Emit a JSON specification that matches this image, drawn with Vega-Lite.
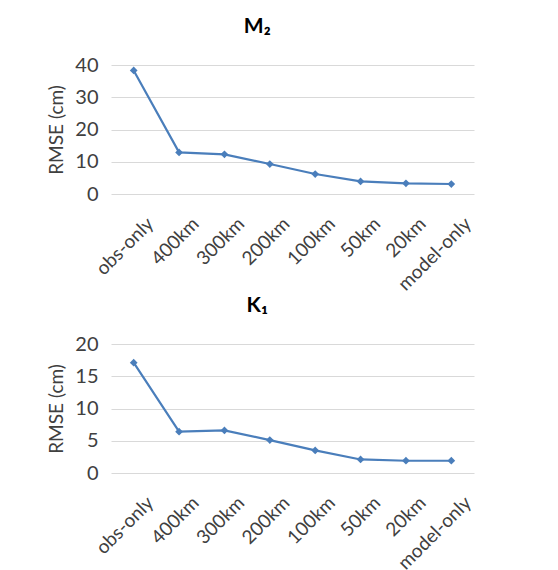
{
  "$schema": "https://vega.github.io/schema/vega-lite/v6.json",
  "background": "white",
  "padding": {"left": 47, "top": 16, "right": 10, "bottom": 5},
  "datasets": {
    "m2": [
      {"case": "obs-only", "rmse": 38.3},
      {"case": "400km", "rmse": 12.9},
      {"case": "300km", "rmse": 12.3},
      {"case": "200km", "rmse": 9.3},
      {"case": "100km", "rmse": 6.2},
      {"case": "50km", "rmse": 3.9},
      {"case": "20km", "rmse": 3.3},
      {"case": "model-only", "rmse": 3.1}
    ],
    "k1": [
      {"case": "obs-only", "rmse": 17.1},
      {"case": "400km", "rmse": 6.4},
      {"case": "300km", "rmse": 6.6},
      {"case": "200km", "rmse": 5.1},
      {"case": "100km", "rmse": 3.5},
      {"case": "50km", "rmse": 2.1},
      {"case": "20km", "rmse": 1.9},
      {"case": "model-only", "rmse": 1.9}
    ]
  },
  "config": {
    "font": "Lato",
    "view": {"stroke": null},
    "axis": {
      "labelFont": "Lato",
      "titleFont": "Lato",
      "labelColor": "#404040",
      "titleColor": "#404040",
      "gridColor": "#d9d9d9",
      "domain": false,
      "ticks": false
    },
    "title": {"font": "Lato", "fontSize": 21, "fontWeight": "bold", "color": "#000000", "frame": "bounds", "anchor": "middle", "offset": 18, "dx": -4},
    "concat": {"spacing": 0}
  },
  "vconcat": [
    {
      "title": "M₂",
      "width": 363,
      "height": 129,
      "data": {"name": "m2"},
      "mark": {"type": "line", "color": "#4A7EBB", "strokeWidth": 2.2, "point": {"shape": "diamond", "size": 60, "filled": true, "color": "#4A7EBB"}},
      "encoding": {
        "x": {"field": "case", "type": "nominal", "sort": null, "scale": {"paddingOuter": 0.5}, "axis": {"title": null, "labelAngle": -45, "labelFontSize": 19, "labelPadding": 20, "labelOffset": 10}},
        "y": {"field": "rmse", "type": "quantitative", "scale": {"domain": [0, 40]}, "axis": {"values": [0, 10, 20, 30, 40], "title": "RMSE (cm)", "titleFontSize": 19, "titleFontWeight": "normal", "labelFontSize": 20, "labelPadding": 13, "titlePadding": 8}}
      }
    },
    {
      "title": "K₁",
      "width": 363,
      "height": 129,
      "data": {"name": "k1"},
      "mark": {"type": "line", "color": "#4A7EBB", "strokeWidth": 2.2, "point": {"shape": "diamond", "size": 60, "filled": true, "color": "#4A7EBB"}},
      "encoding": {
        "x": {"field": "case", "type": "nominal", "sort": null, "scale": {"paddingOuter": 0.5}, "axis": {"title": null, "labelAngle": -45, "labelFontSize": 19, "labelPadding": 20, "labelOffset": 10}},
        "y": {"field": "rmse", "type": "quantitative", "scale": {"domain": [0, 20]}, "axis": {"values": [0, 5, 10, 15, 20], "title": "RMSE (cm)", "titleFontSize": 19, "titleFontWeight": "normal", "labelFontSize": 20, "labelPadding": 13, "titlePadding": 8}}
      }
    }
  ]
}
